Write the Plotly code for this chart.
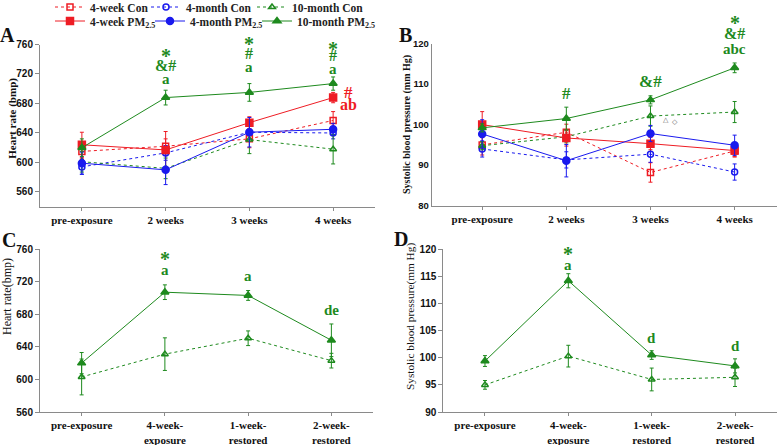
import plotly.graph_objects as go

# ---------------- data ----------------
cats_top = ["pre-exposure", "2 weeks", "3 weeks", "4 weeks"]
cats_bot = ["pre-exposure", "4-week-<br>exposure", "1-week-<br>restored", "2-week-<br>restored"]

# Panel A: heart rate (bmp)
hr_4w_con = [615, 622, 632, 657]
hr_4w_con_err = [10, 10, 12, 12]
hr_4m_con = [594, 613, 641, 640]
hr_4m_con_err = [10, 10, 10, 8]
hr_10m_con = [601, 592, 631, 618]
hr_10m_con_err = [14, 14, 19, 20]
hr_4w_pm = [624, 617, 654, 688]
hr_4w_pm_err = [17, 25, 8, 7]
hr_4m_pm = [599, 590, 641, 645]
hr_4m_pm_err = [15, 20, 20, 8]
hr_10m_pm = [620, 688, 695, 707]
hr_10m_pm_err = [12, 10, 12, 9]

# Panel B: systolic blood pressure (mm Hg)
bp_4w_con = [95.0, 98.1, 88.2, 93.5]
bp_4w_con_err = [2.5, 2.0, 2.4, 1.5]
bp_4m_con = [94.0, 91.3, 92.7, 88.3]
bp_4m_con_err = [2.0, 2.0, 2.0, 2.0]
bp_10m_con = [94.8, 97.0, 102.1, 103.1]
bp_10m_con_err = [1.0, 1.5, 2.5, 2.6]
bp_4w_pm = [100.0, 96.7, 95.3, 93.6]
bp_4w_pm_err = [3.2, 2.0, 1.5, 1.5]
bp_4m_pm = [97.7, 91.1, 97.8, 94.9]
bp_4m_pm_err = [3.5, 4.0, 2.0, 2.5]
bp_10m_pm = [99.2, 101.5, 106.1, 114.0]
bp_10m_pm_err = [1.0, 2.8, 1.0, 1.2]

# Panel C: heart rate, recovery
c_con = [603, 631, 650.5, 623]
c_con_err = [22, 20, 9, 9]
c_pm = [620, 707, 703, 648]
c_pm_err = [13, 9, 6, 20]

# Panel D: systolic BP, recovery
d_con = [95.0, 100.3, 96.0, 96.4]
d_con_err = [0.8, 2.0, 2.1, 1.7]
d_pm = [99.4, 114.2, 100.5, 98.5]
d_pm_err = [1.0, 1.3, 0.8, 1.3]

xs = [0, 1, 2, 3]

RED = "#ee1c24"
BLUE = "#1a1aee"
GREEN = "#1e8a1e"
AX = "#8a8a8a"
SERIF = "Liberation Serif"
SANS = "Liberation Sans"

W, H = 778, 445

fig = go.Figure()


def add(x, y, err, color, symbol, dash, xa, ya, name=None, legend=None, show=False):
    fig.add_trace(go.Scatter(
        x=x, y=y, mode="lines+markers", name=name, showlegend=show,
        legend=legend,
        line=dict(color=color, width=1, dash=dash),
        marker=dict(symbol=symbol, size=7 if "open" not in symbol else 6,
                    color=color, line=dict(color=color, width=1.5)),
        error_y=dict(type="data", array=err, color=color, thickness=1, width=2),
        xaxis=xa, yaxis=ya, cliponaxis=False,
    ))


add(xs, hr_4w_con, hr_4w_con_err, RED, "square-open", "dot", "x", "y", "4-week Con", "legend", True)
add(xs, hr_4m_con, hr_4m_con_err, BLUE, "circle-open", "dot", "x", "y", "4-month Con", "legend2", True)
add(xs, hr_10m_con, hr_10m_con_err, GREEN, "triangle-up-open", "dot", "x", "y", "10-month Con", "legend3", True)
add(xs, hr_4w_pm, hr_4w_pm_err, RED, "square", "solid", "x", "y", "4-week PM<sub>2.5</sub>", "legend4", True)
add(xs, hr_4m_pm, hr_4m_pm_err, BLUE, "circle", "solid", "x", "y", "4-month PM<sub>2.5</sub>", "legend5", True)
add(xs, hr_10m_pm, hr_10m_pm_err, GREEN, "triangle-up", "solid", "x", "y", "10-month PM<sub>2.5</sub>", "legend6", True)

add(xs, bp_4w_con, bp_4w_con_err, RED, "square-open", "dot", "x2", "y2")
add(xs, bp_4m_con, bp_4m_con_err, BLUE, "circle-open", "dot", "x2", "y2")
add(xs, bp_10m_con, bp_10m_con_err, GREEN, "triangle-up-open", "dot", "x2", "y2")
add(xs, bp_4w_pm, bp_4w_pm_err, RED, "square", "solid", "x2", "y2")
add(xs, bp_4m_pm, bp_4m_pm_err, BLUE, "circle", "solid", "x2", "y2")
add(xs, bp_10m_pm, bp_10m_pm_err, GREEN, "triangle-up", "solid", "x2", "y2")

add(xs, c_con, c_con_err, GREEN, "triangle-up-open", "dot", "x3", "y3")
add(xs, c_pm, c_pm_err, GREEN, "triangle-up", "solid", "x3", "y3")
add(xs, d_con, d_con_err, GREEN, "triangle-up-open", "dot", "x4", "y4")
add(xs, d_pm, d_pm_err, GREEN, "triangle-up", "solid", "x4", "y4")


def px_x(a, b):
    return [a / W, b / W]


def px_y(top, bot):
    return [1 - bot / H, 1 - top / H]


xcommon = dict(showline=True, linecolor=AX, linewidth=1, ticks="outside", tickcolor=AX,
               ticklen=3, showgrid=False, zeroline=False, automargin=False,
               tickfont=dict(family=SERIF, size=11, color="#111", weight="bold"),
               tickvals=xs)
ycommon = dict(showline=True, linecolor=AX, linewidth=1, ticks="outside", tickcolor=AX,
               ticklen=4, showgrid=False, zeroline=False, automargin=False,
               tickfont=dict(family=SANS, size=10, color="#111", weight="bold"))

legfont = dict(family=SERIF, size=11.5, color="#222", weight="bold")


def leg(px, py):
    return dict(orientation="v", x=px / W, y=1 - py / H, xanchor="left", yanchor="middle",
                itemwidth=30, font=legfont, bgcolor="rgba(0,0,0,0)", borderwidth=0)


fig.update_layout(
    width=W, height=H, autosize=False,
    margin=dict(l=0, r=0, t=0, b=0, autoexpand=False),
    paper_bgcolor="white", plot_bgcolor="white",
    xaxis=dict(xcommon, domain=px_x(40, 375), range=[-0.5, 3.5], ticktext=cats_top, anchor="y"),
    yaxis=dict(ycommon, domain=px_y(44.5, 206.7), range=[540, 760], tickvals=[560, 600, 640, 680, 720, 760], anchor="x"),
    xaxis2=dict(xcommon, domain=px_x(431.7, 776.7), range=[-0.6, 3.5], ticktext=cats_top, anchor="y2"),
    yaxis2=dict(ycommon, domain=px_y(43.5, 205.7), range=[80, 120], tickvals=[80, 90, 100, 110, 120], anchor="x2",
                ticks="", tickfont=dict(family=SANS, size=9.5, color="#111", weight="bold")),
    xaxis3=dict(xcommon, domain=px_x(40, 373), range=[-0.5, 3.5], ticktext=cats_bot, anchor="y3"),
    yaxis3=dict(ycommon, domain=px_y(249, 412), range=[560, 760], tickvals=[560, 600, 640, 680, 720, 760], anchor="x3"),
    xaxis4=dict(xcommon, domain=px_x(443.3, 776.7), range=[-0.5, 3.5], ticktext=cats_bot, anchor="y4"),
    yaxis4=dict(ycommon, domain=px_y(249.3, 412), range=[90, 120], tickvals=[90, 95, 100, 105, 110, 115, 120], anchor="x4"),
    legend=leg(50, 7),
    legend2=leg(146, 7),
    legend3=leg(252, 7),
    legend4=leg(50, 21),
    legend5=leg(150, 21),
    legend6=leg(257, 21),
    showlegend=True,
)

ann = []


def txt(x, py, text, xref, color=GREEN, size=16, family=SERIF, weight="bold", angle=0):
    ann.append(dict(x=x, y=1 - py / H, xref=xref, yref="paper", text=text, showarrow=False,
                    font=dict(family=family, size=size, color=color, weight=weight),
                    textangle=angle, xanchor="center", yanchor="middle"))


# y-axis titles
txt(11.7 / W, 118, "Heart rate (bmp)", "paper", color="#111", size=11, angle=-90)
txt(407 / W, 125, "Systolic blood pressure (mm Hg)", "paper", color="#111", size=10, angle=-90)
txt(7 / W, 297, "Heart rate(bmp)", "paper", color="#111", size=12, weight="normal", angle=-90)
txt(410 / W, 317, "Systolic blood pressure(mm Hg)", "paper", color="#111", size=11.3, weight="normal", angle=-90)

# panel letters
for lx, ly, L in [(8, 35, "A"), (405, 35, "B"), (9, 240, "C"), (401, 239, "D")]:
    txt(lx / W, ly, L, "paper", color="#111", size=20)

STAR = 20
SO = 4  # star glyph sits high in its box
# Panel A significance marks
txt(1, 52 + SO, "*", "x", size=STAR)
txt(1, 65, "&amp;#", "x")
txt(1, 79.3, "a", "x", size=15)
txt(2, 40.3 + SO, "*", "x", size=STAR)
txt(2, 53, "#", "x")
txt(2, 66.7, "a", "x", size=15)
txt(3, 44.7 + SO, "*", "x", size=STAR)
txt(3, 55.5, "#", "x")
txt(3, 69, "a", "x", size=15)
txt(348 / W, 92.7, "#", "paper", color=RED, size=17)
txt(348 / W, 104.3, "ab", "paper", color=RED, size=16)

# Panel B
txt(1, 93.3, "#", "x2", size=17)
txt(2, 81.7, "&amp;#", "x2", size=17)
txt(3, 19 + SO, "*", "x2", size=STAR)
txt(3, 33.3, "&amp;#", "x2", size=16)
txt(3, 49.3, "abc", "x2", size=15)
txt(666 / W, 119.3, "△", "paper", color="#666", size=7, family=SANS, weight="normal")
txt(675 / W, 122, "◇", "paper", color="#666", size=7, family=SANS, weight="normal")

# Panel C
txt(1, 255 + SO, "*", "x3", size=STAR)
txt(1, 270, "a", "x3", size=15)
txt(2, 276, "a", "x3", size=15)
txt(3, 310, "de", "x3", size=15)

# Panel D
txt(1, 250 + SO, "*", "x4", size=STAR)
txt(1, 265, "a", "x4", size=15)
txt(2, 338.3, "d", "x4", size=15)
txt(3, 346, "d", "x4", size=15)

fig.update_layout(annotations=ann)

fig.write_html("out.html", config={"displayModeBar": False},
               post_script="document.body.style.margin='0';")
